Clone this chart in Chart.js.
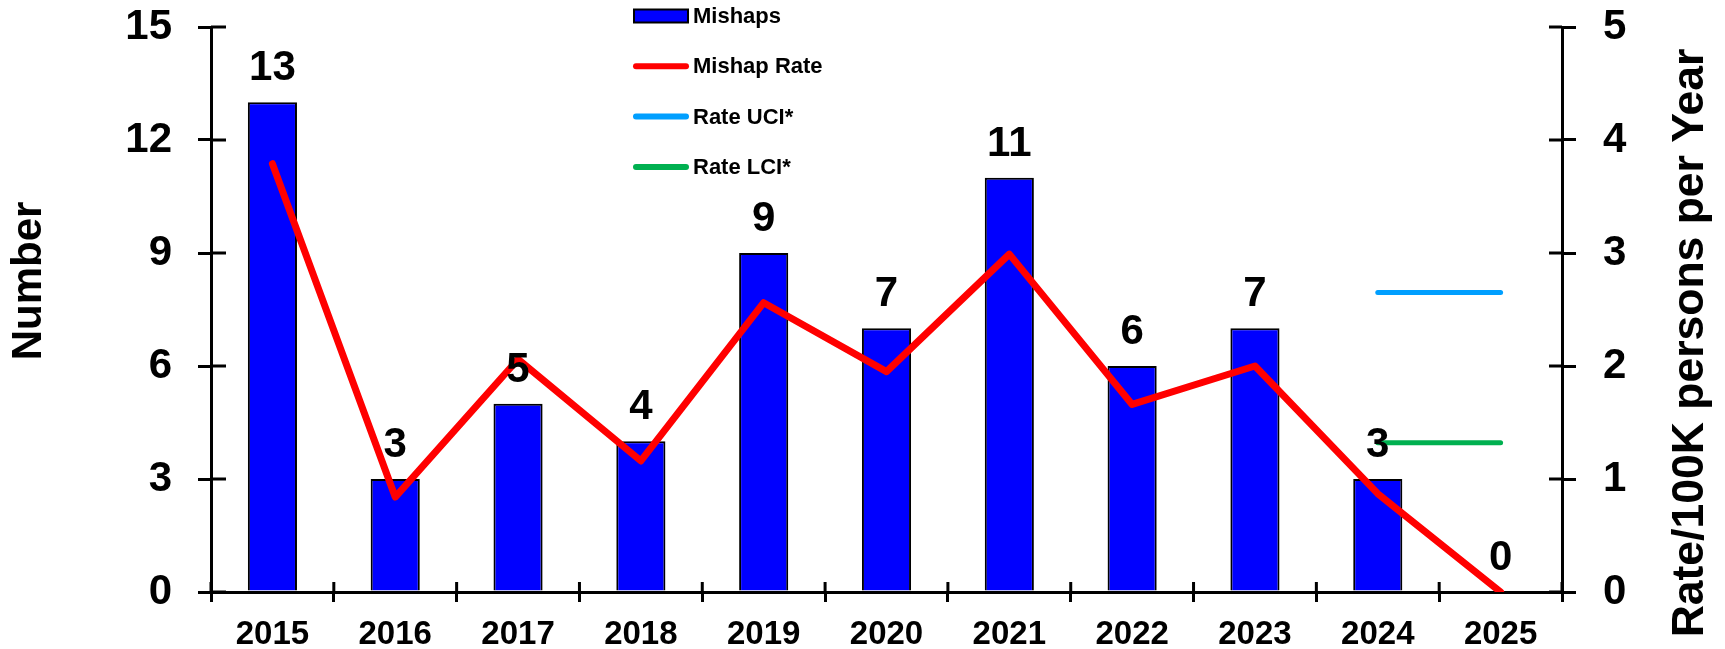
<!DOCTYPE html>
<html>
<head>
<meta charset="utf-8">
<script src="https://cdn.jsdelivr.net/npm/chart.js@4/dist/chart.umd.min.js"></script>
<style>
  html, body { margin: 0; padding: 0; background: #fff; }
  .chart-box { width: 1725px; height: 649px; position: relative; }
</style>
</head>
<body>
<div class="chart-box"><canvas id="chart"></canvas></div>
<script>
// data
const years = ['2015', '2016', '2017', '2018', '2019', '2020', '2021', '2022', '2023', '2024', '2025'];
const mishaps = [13, 3, 5, 4, 9, 7, 11, 6, 7, 3, 0];
const mishapRate = [3.79, 0.84, 2.06, 1.16, 2.56, 1.95, 2.99, 1.66, 2.0, 0.87, 0];
const rateUCI = [null, null, null, null, null, null, null, null, null, 2.65, 2.65];
const rateLCI = [null, null, null, null, null, null, null, null, null, 1.32, 1.32];
const countTicks = [0, 3, 6, 9, 12, 15];
const rateTicks = [0, 1, 2, 3, 4, 5];

const FONT = "'Liberation Sans', Arial, sans-serif";

// value labels above the bars
const barLabels = {
  id: 'barLabels',
  afterDatasetsDraw(chart) {
    const ctx = chart.ctx;
    const meta = chart.getDatasetMeta(0);
    ctx.save();
    ctx.font = 'bold 42px ' + FONT;
    ctx.fillStyle = '#000';
    ctx.textAlign = 'center';
    ctx.textBaseline = 'alphabetic';
    meta.data.forEach((bar, i) => {
      ctx.fillText(String(mishaps[i]), bar.x, bar.y - 22);
    });
    ctx.restore();
  }
};

// tick marks cross the axes, draw the inner half here
const innerTicks = {
  id: 'innerTicks',
  afterDatasetsDraw(chart) {
    const { ctx, scales: { x, y, y1 } } = chart;
    ctx.save();
    ctx.strokeStyle = '#000';
    ctx.lineWidth = 3;
    ctx.beginPath();
    y.ticks.forEach((t, i) => {
      const py = y.getPixelForTick(i);
      ctx.moveTo(y.right, py);
      ctx.lineTo(y.right + 15, py);
    });
    y1.ticks.forEach((t, i) => {
      const py = y1.getPixelForTick(i);
      ctx.moveTo(y1.left, py);
      ctx.lineTo(y1.left - 13, py);
    });
    const n = years.length;
    for (let i = 0; i <= n; i++) {
      const px = x.left + i * x.width / n;
      ctx.moveTo(px, x.top);
      ctx.lineTo(px, x.top - 10);
    }
    ctx.stroke();
    ctx.restore();
  }
};

// both axis titles read bottom-to-top
const axisTitles = {
  id: 'axisTitles',
  afterDraw(chart) {
    const ctx = chart.ctx;
    ctx.save();
    ctx.font = 'bold 42px ' + FONT;
    ctx.fillStyle = '#000';
    ctx.textAlign = 'center';
    ctx.textBaseline = 'middle';
    ctx.translate(29, 281);
    ctx.rotate(-Math.PI / 2);
    ctx.fillText('Number', 0, 0);
    ctx.restore();

    ctx.save();
    ctx.font = 'bold 44.5px ' + FONT;
    ctx.fillStyle = '#000';
    ctx.textAlign = 'center';
    ctx.textBaseline = 'middle';
    ctx.translate(1691, 343);
    ctx.rotate(-Math.PI / 2);
    ctx.fillText('Rate/100K persons per Year', 0, 0);
    ctx.restore();
  }
};

// stacked legend inside the plot
const stackLegend = {
  id: 'stackLegend',
  afterDraw(chart) {
    const ctx = chart.ctx;
    const x0 = 634, x1 = 688, top = 16, step = 50.3;
    ctx.save();
    chart.data.datasets.forEach((ds, i) => {
      const cy = top + i * step;
      if (ds.type === 'bar') {
        ctx.fillStyle = ds.backgroundColor;
        ctx.fillRect(x0, cy - 6.5, x1 - x0, 13);
        ctx.strokeStyle = '#000';
        ctx.lineWidth = 2;
        ctx.strokeRect(x0, cy - 6.5, x1 - x0, 13);
      } else {
        ctx.strokeStyle = ds.borderColor;
        ctx.lineWidth = 6;
        ctx.lineCap = 'round';
        ctx.beginPath();
        ctx.moveTo(x0 + 2, cy);
        ctx.lineTo(x1 - 2, cy);
        ctx.stroke();
      }
      ctx.fillStyle = '#000';
      ctx.font = 'bold 22px ' + FONT;
      ctx.textAlign = 'left';
      ctx.textBaseline = 'middle';
      ctx.fillText(ds.label, 693, cy + 1);
    });
    ctx.restore();
  }
};

// drop the label overhang so the plot top sits where the reference has it
function fixWidth(w) {
  return function (scale) {
    scale.width = w;
    scale.paddingTop = 0;
    scale.paddingBottom = 0;
  };
}

new Chart(document.getElementById('chart'), {
  data: {
    labels: years,
    datasets: [
      {
        type: 'bar',
        label: 'Mishaps',
        data: mishaps,
        backgroundColor: '#0000FF',
        borderColor: '#000',
        borderWidth: 2,
        barPercentage: 0.4,
        categoryPercentage: 1,
        yAxisID: 'y',
        order: 2
      },
      {
        type: 'line',
        label: 'Mishap Rate',
        data: mishapRate,
        borderColor: '#FF0000',
        borderWidth: 7,
        pointRadius: 0,
        tension: 0,
        borderCapStyle: 'round',
        borderJoinStyle: 'round',
        yAxisID: 'y1',
        order: 1
      },
      {
        type: 'line',
        label: 'Rate UCI*',
        data: rateUCI,
        borderColor: '#009FFF',
        borderWidth: 5,
        pointRadius: 0,
        borderCapStyle: 'round',
        yAxisID: 'y1',
        order: 1
      },
      {
        type: 'line',
        label: 'Rate LCI*',
        data: rateLCI,
        borderColor: '#00B050',
        borderWidth: 5,
        pointRadius: 0,
        borderCapStyle: 'round',
        yAxisID: 'y1',
        order: 1
      }
    ]
  },
  options: {
    responsive: true,
    maintainAspectRatio: false,
    animation: false,
    layout: { padding: { top: 27, left: 2, right: 0, bottom: 0 } },
    plugins: {
      legend: { display: false },
      tooltip: { enabled: false }
    },
    scales: {
      x: {
        offset: true,
        grid: { display: true, drawOnChartArea: false, drawTicks: true, tickLength: 10, color: '#000', lineWidth: 3 },
        border: { display: true, color: '#000', width: 3 },
        ticks: { color: '#000', font: { family: FONT, size: 33, weight: 'bold' }, padding: 13, maxRotation: 0 },
        afterFit(scale) { scale.height = 57; }
      },
      y: {
        position: 'left',
        min: 0,
        max: 15,
        afterBuildTicks(scale) { scale.ticks = countTicks.map(v => ({ value: v })); },
        grid: { display: true, drawOnChartArea: false, drawTicks: true, tickLength: 13, color: '#000', lineWidth: 3 },
        border: { display: true, color: '#000', width: 3 },
        ticks: { color: '#000', font: { family: FONT, size: 42, weight: 'bold' }, padding: 26 },
        afterFit: fixWidth(209)
      },
      y1: {
        position: 'right',
        min: 0,
        max: 5,
        afterBuildTicks(scale) { scale.ticks = rateTicks.map(v => ({ value: v })); },
        grid: { display: true, drawOnChartArea: false, drawTicks: true, tickLength: 14, color: '#000', lineWidth: 3 },
        border: { display: true, color: '#000', width: 3 },
        ticks: { color: '#000', font: { family: FONT, size: 42, weight: 'bold' }, padding: 27 },
        afterFit: fixWidth(163)
      }
    }
  },
  plugins: [barLabels, innerTicks, axisTitles, stackLegend]
});
</script>
</body>
</html>
